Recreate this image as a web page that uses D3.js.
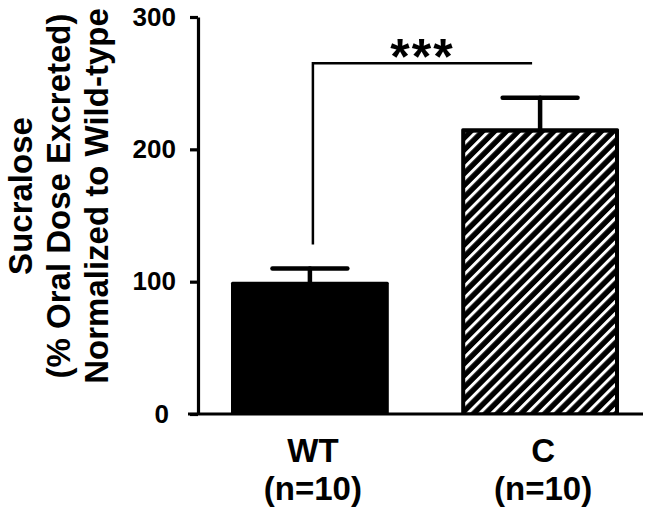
<!DOCTYPE html>
<html>
<head>
<meta charset="utf-8">
<script src="https://cdn.jsdelivr.net/npm/d3@7"></script>
<style>
  html, body { margin: 0; padding: 0; background: #fff; }
  svg { display: block; }
  text { font-family: "Liberation Sans", Arial, Helvetica, sans-serif; fill: #000; }
</style>
</head>
<body>
<script>
// ---- data ----
const categories = ["WT", "C"];
const sampleSizes = ["(n=10)", "(n=10)"];
const means = [100, 216];
const upperErrors = [10, 23];
const yTicks = [0, 100, 200, 300];
const yTitleLines = ["Sucralose", "(% Oral Dose Excreted)", "Normalized to Wild-type"];
const bracketValues = [128, 265]; // leg bottom, bracket height
const significance = "***";

// ---- setup ----
const W = 660, H = 515;
const svg = d3.select("body").append("svg").attr("width", W).attr("height", H);

const y = d3.scaleLinear().domain([0, 300]).range([414, 17]);
const x = d3.scaleBand().domain(categories).range([231, 619]).paddingInner(0.3145).paddingOuter(0);
const bw = x.bandwidth();

// hatch pattern
const defs = svg.append("defs");
const pat = defs.append("pattern")
  .attr("id", "hatch")
  .attr("patternUnits", "userSpaceOnUse")
  .attr("width", 8.4).attr("height", 8.4)
  .attr("patternTransform", "rotate(45)");
pat.append("rect").attr("width", 8.4).attr("height", 8.4).attr("fill", "#000");
pat.append("rect").attr("x", 0).attr("width", 3).attr("height", 8.4).attr("fill", "#fff");

const data = categories.map((c, i) => ({ c, n: sampleSizes[i], m: means[i], e: upperErrors[i], i }));

// bars
const bars = svg.append("g");
bars.selectAll("rect.bar").data(data).join("rect")
  .attr("class", "bar")
  .attr("x", d => x(d.c))
  .attr("y", d => y(d.m))
  .attr("width", bw)
  .attr("height", d => y(0) - y(d.m))
  .attr("rx", 1.5)
  .attr("fill", "#000");
bars.selectAll("rect.hatch").data(data.filter(d => d.i === 1)).join("rect")
  .attr("class", "hatch")
  .attr("x", d => x(d.c) + 4)
  .attr("y", d => y(d.m) + 4.5)
  .attr("width", bw - 8)
  .attr("height", d => y(0) - y(d.m) - 6)
  .attr("fill", "url(#hatch)");

// error bars
const eb = svg.append("g").attr("stroke", "#000").attr("stroke-width", 4.5).attr("stroke-linecap", "round");
eb.selectAll("line.stem").data(data).join("line")
  .attr("x1", d => x(d.c) + bw / 2).attr("x2", d => x(d.c) + bw / 2)
  .attr("y1", d => y(d.m)).attr("y2", d => y(d.m + d.e));
eb.selectAll("line.cap").data(data).join("line")
  .attr("x1", d => x(d.c) + bw / 4 + 2).attr("x2", d => x(d.c) + 3 * bw / 4 - 2)
  .attr("y1", d => y(d.m + d.e)).attr("y2", d => y(d.m + d.e));

// y axis
const yAxis = svg.append("g")
  .attr("transform", "translate(198,0)")
  .call(d3.axisLeft(y).tickValues(yTicks).tickSize(8).tickSizeOuter(0).tickPadding(14));
yAxis.select(".domain").attr("stroke", "#000").attr("stroke-width", 3.2);
yAxis.selectAll(".tick line").attr("stroke", "#000").attr("stroke-width", 3.2);
yAxis.selectAll(".tick text")
  .attr("font-family", "'Liberation Sans', Arial, sans-serif")
  .attr("font-size", 26).attr("font-weight", "bold").attr("fill", "#000")
  .attr("x", d => d === 0 ? -29 : -22);

// x axis baseline
svg.append("line")
  .attr("x1", 188).attr("x2", 643)
  .attr("y1", y(0)).attr("y2", y(0))
  .attr("stroke", "#000").attr("stroke-width", 3.2);

// x labels
const xl = svg.append("g").attr("font-size", 33).attr("font-weight", "bold").attr("text-anchor", "middle");
xl.selectAll("text.cat").data(data).join("text")
  .attr("class", "cat")
  .attr("x", d => x(d.c) + bw / 2 + 3).attr("y", 462).text(d => d.c);
xl.selectAll("text.n").data(data).join("text")
  .attr("class", "n")
  .attr("x", d => x(d.c) + bw / 2 + 3).attr("y", 500).text(d => d.n);

// y title
const yt = svg.append("text")
  .attr("transform", "translate(0,196) rotate(-90)")
  .attr("text-anchor", "middle").attr("font-size", 33).attr("font-weight", "bold");
yt.selectAll("tspan").data(yTitleLines).join("tspan")
  .attr("x", 0).attr("y", (d, i) => 32 + i * 38).text(d => d);

// significance bracket
const bx1 = x("WT") + bw / 2 + 3, bx2 = x("C") + bw / 2 - 8;
svg.append("path")
  .attr("d", `M${bx1},${y(bracketValues[0])}V${y(bracketValues[1])}H${bx2}`)
  .attr("fill", "none").attr("stroke", "#000").attr("stroke-width", 2.5);
svg.append("text")
  .attr("x", (bx1 + bx2) / 2).attr("y", 74)
  .attr("text-anchor", "middle").attr("font-size", 50).attr("font-weight", "bold")
  .attr("letter-spacing", 2)
  .text(significance);
</script>
</body>
</html>
